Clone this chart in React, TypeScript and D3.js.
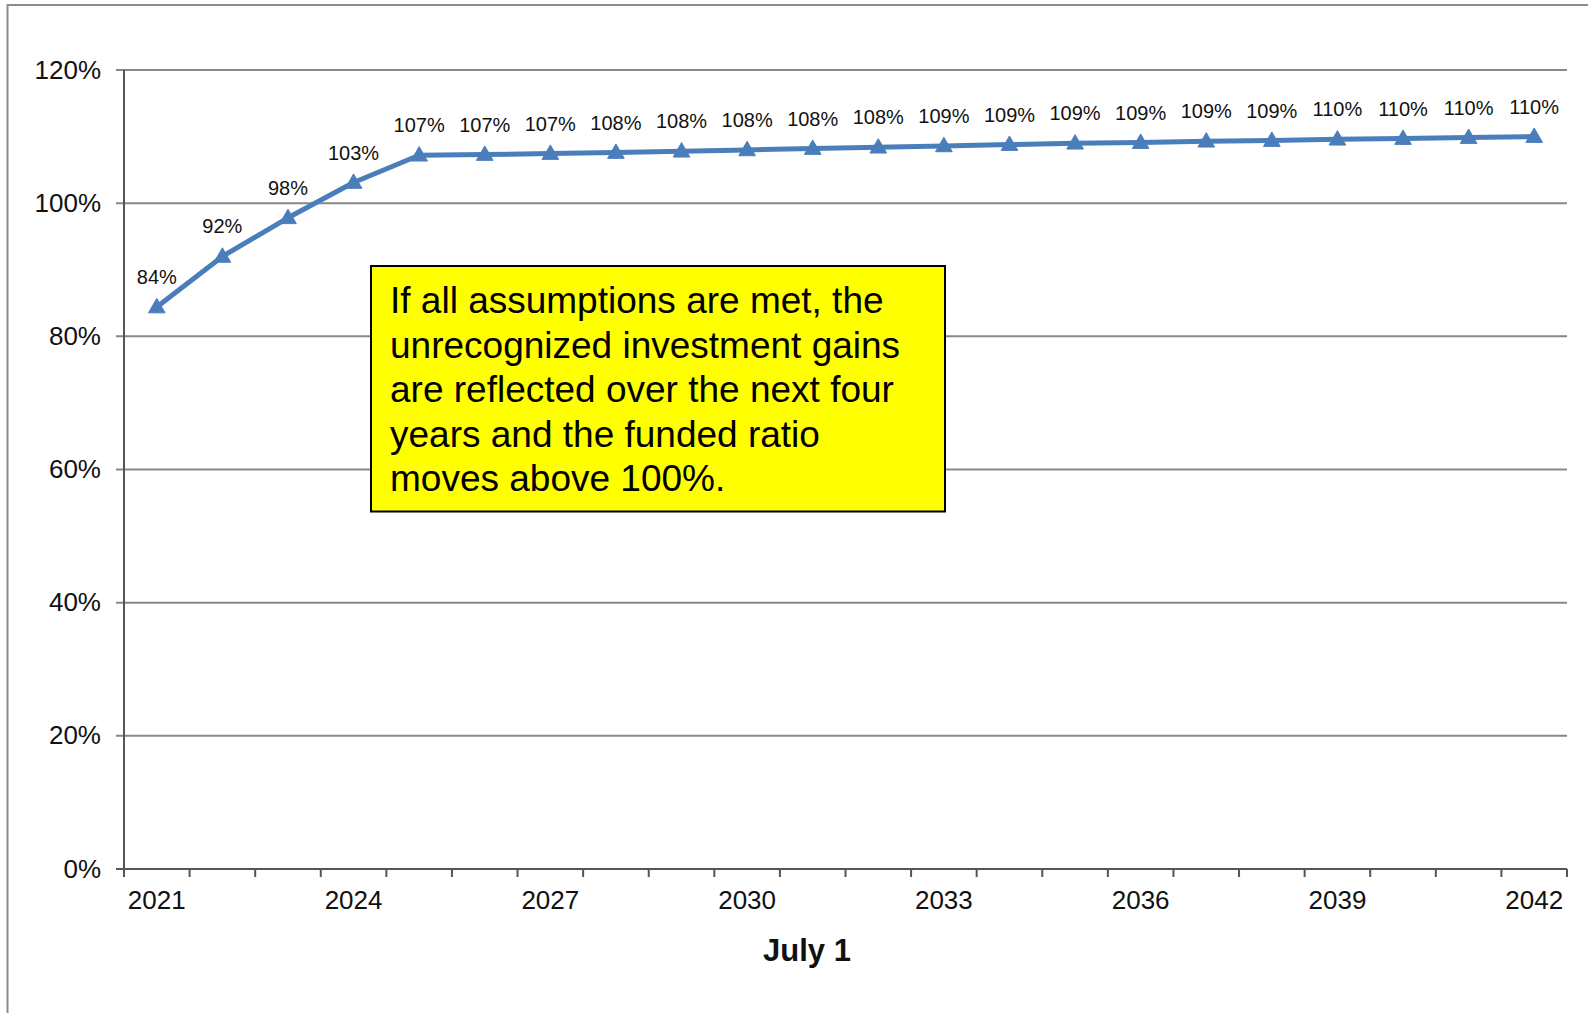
import React from "react";
import * as d3 from "d3";

const years: string[] = [
  "2021", "2022", "2023", "2024", "2025", "2026", "2027", "2028", "2029", "2030", "2031",
  "2032", "2033", "2034", "2035", "2036", "2037", "2038", "2039", "2040", "2041", "2042",
];
const fundedRatio: number[] = [
  0.844, 0.92, 0.978, 1.031, 1.072, 1.073, 1.0745, 1.076, 1.078, 1.08, 1.082,
  1.084, 1.086, 1.088, 1.09, 1.091, 1.093, 1.094, 1.096, 1.097, 1.0985, 1.1,
];
const yTicks: number[] = [0, 0.2, 0.4, 0.6, 0.8, 1.0, 1.2];
const xTickLabels: string[] = ["2021", "2024", "2027", "2030", "2033", "2036", "2039", "2042"];
const noteLines: string[] = [
  "If all assumptions are met, the",
  "unrecognized investment gains",
  "are reflected over the next four",
  "years and the funded ratio",
  "moves above 100%.",
];
const xTitle = "July 1";

const W = 1588;
const H = 1013;
const FONT = "'Liberation Sans', Arial, Helvetica, sans-serif";

export default function App() {
  const left = 124;
  const right = 1567;
  const top = 70;
  const bottom = 869;

  const x = d3.scaleBand<string>().domain(years).range([left, right]).padding(0);
  const y = d3.scaleLinear().domain([0, 1.2]).range([bottom, top]);
  const cx = (yr: string) => (x(yr) as number) + x.bandwidth() / 2;

  const line = d3
    .line<number>()
    .x((_, i) => cx(years[i]))
    .y((d) => y(d));

  const tri = d3.symbol().type(d3.symbolTriangle).size(120)();
  const pct = d3.format(".0%");

  const boundaries = d3.range(years.length + 1).map((i) => left + i * x.bandwidth());

  return (
    <svg
      width={W}
      height={H}
      style={{ position: "absolute", left: 0, top: 0, background: "#fff" }}
      fontFamily={FONT}
    >
      <rect x={0} y={0} width={W} height={H} fill="#fff" />
      {/* outer chart border */}
      <rect x={7.5} y={5} width={W + 50} height={H + 50} fill="none" stroke="#8c8c8c" strokeWidth={2} />

      {/* gridlines */}
      {yTicks
        .filter((t) => t > 0)
        .map((t) => (
          <line key={"g" + t} x1={left - 8} x2={right} y1={y(t)} y2={y(t)} stroke="#878787" strokeWidth={2} />
        ))}

      {/* y axis */}
      <line x1={left} x2={left} y1={top} y2={bottom} stroke="#555" strokeWidth={2} />
      <line x1={left - 8} x2={left} y1={bottom} y2={bottom} stroke="#555" strokeWidth={2} />
      {yTicks.map((t) => (
        <text key={"yl" + t} x={101} y={y(t) + 8.5} textAnchor="end" fontSize={26} fill="#111">
          {pct(t)}
        </text>
      ))}

      {/* x axis */}
      <line x1={left} x2={right} y1={bottom} y2={bottom} stroke="#555" strokeWidth={2} />
      {boundaries.map((bx, i) => (
        <line key={"xt" + i} x1={bx} x2={bx} y1={bottom} y2={bottom + 8} stroke="#555" strokeWidth={2} />
      ))}
      {xTickLabels.map((yr) => (
        <text key={"xl" + yr} x={cx(yr)} y={909} textAnchor="middle" fontSize={26} fill="#111">
          {yr}
        </text>
      ))}
      <text x={807} y={961} textAnchor="middle" fontSize={31} fontWeight="bold" fill="#111">
        {xTitle}
      </text>

      {/* data line */}
      <path d={line(fundedRatio) || ""} fill="none" stroke="#4A7EBB" strokeWidth={5} strokeLinejoin="round" />
      {fundedRatio.map((v, i) => (
        <path
          key={"m" + i}
          d={tri || ""}
          transform={`translate(${cx(years[i])},${y(v) + 1})`}
          fill="#4A7EBB"
          stroke="#4A7EBB"
          strokeWidth={1}
        />
      ))}
      {fundedRatio.map((v, i) => (
        <text
          key={"dl" + i}
          x={cx(years[i])}
          y={y(v) - 23}
          textAnchor="middle"
          fontSize={20}
          fill="#111"
        >
          {pct(v)}
        </text>
      ))}

      {/* annotation box */}
      <rect x={371} y={266} width={574} height={245.5} fill="#FFFF00" stroke="#000" strokeWidth={2} />
      {noteLines.map((ln, i) => (
        <text key={"n" + i} x={390} y={313 + i * 44.6} fontSize={37} fill="#000">
          {ln}
        </text>
      ))}
    </svg>
  );
}
